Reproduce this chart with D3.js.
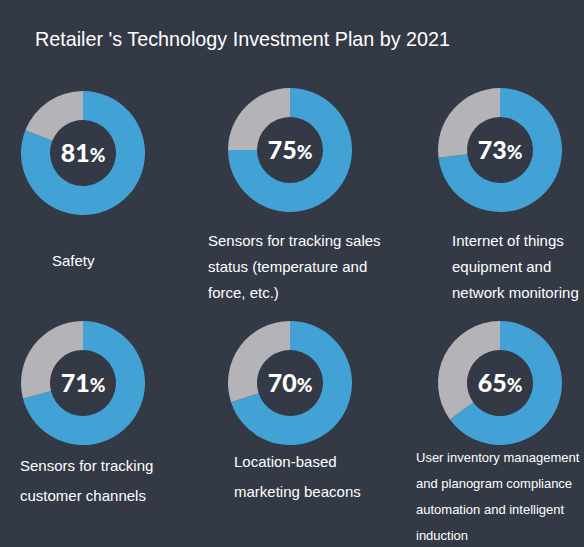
<!DOCTYPE html><html><head><script src="https://cdn.jsdelivr.net/npm/d3@7"></script>
<style>body{margin:0;background:#343946}</style></head><body><svg id="c" width="584" height="547"></svg>
<script>
const categories=[["Safety"],["Sensors for tracking sales","status (temperature and","force, etc.)"],["Internet of things","equipment and","network monitoring"],["Sensors for tracking","customer channels"],["Location-based","marketing beacons"],["User inventory management","and planogram compliance","automation and intelligent","induction"]];
const values=[81,75,73,71,70,65];
const centers=[[83,153],[290,150],[500,150],[83,383],[290,383],[500,383]];
const labelPos=[[52,266,15,22],[208,246,15,26],[452,246,15,26],[20,471,15,30],[234,467,15,30],[416,462,13,26]];
const svg=d3.select("#c");
svg.append("rect").attr("width",584).attr("height",547).attr("fill","#343946");
svg.append("text").attr("x",35).attr("y",46).attr("fill","#fff").attr("font-family","Liberation Sans, Arial").attr("font-size",21).attr("textLength",415).attr("lengthAdjust","spacingAndGlyphs").text("Retailer 's Technology Investment Plan by 2021");
const arc=d3.arc().innerRadius(33).outerRadius(62);
const pie=d3.pie().sort(null);
values.forEach((v,i)=>{
 const g=svg.append("g").attr("transform",`translate(${centers[i]})`);
 g.selectAll("path").data(pie([v,100-v])).join("path").attr("d",arc).attr("fill",(d,j)=>j?"#b3b3b8":"#43a2d5");
 const t=g.append("text").attr("text-anchor","middle").attr("y",9).attr("fill","#fff").attr("font-family","Lato, Open Sans, sans-serif").attr("font-weight",900);
 t.append("tspan").attr("font-size",25).text(v);
 t.append("tspan").attr("font-size",19).text("%");
 const [lx,ly,fs,lh]=labelPos[i];
 const lt=svg.append("text").attr("fill","#fff").attr("font-family","Liberation Sans, Arial").attr("font-size",fs);
 categories[i].forEach((s,k)=>lt.append("tspan").attr("x",lx).attr("y",ly+k*lh).text(s));
});
</script></body></html>
